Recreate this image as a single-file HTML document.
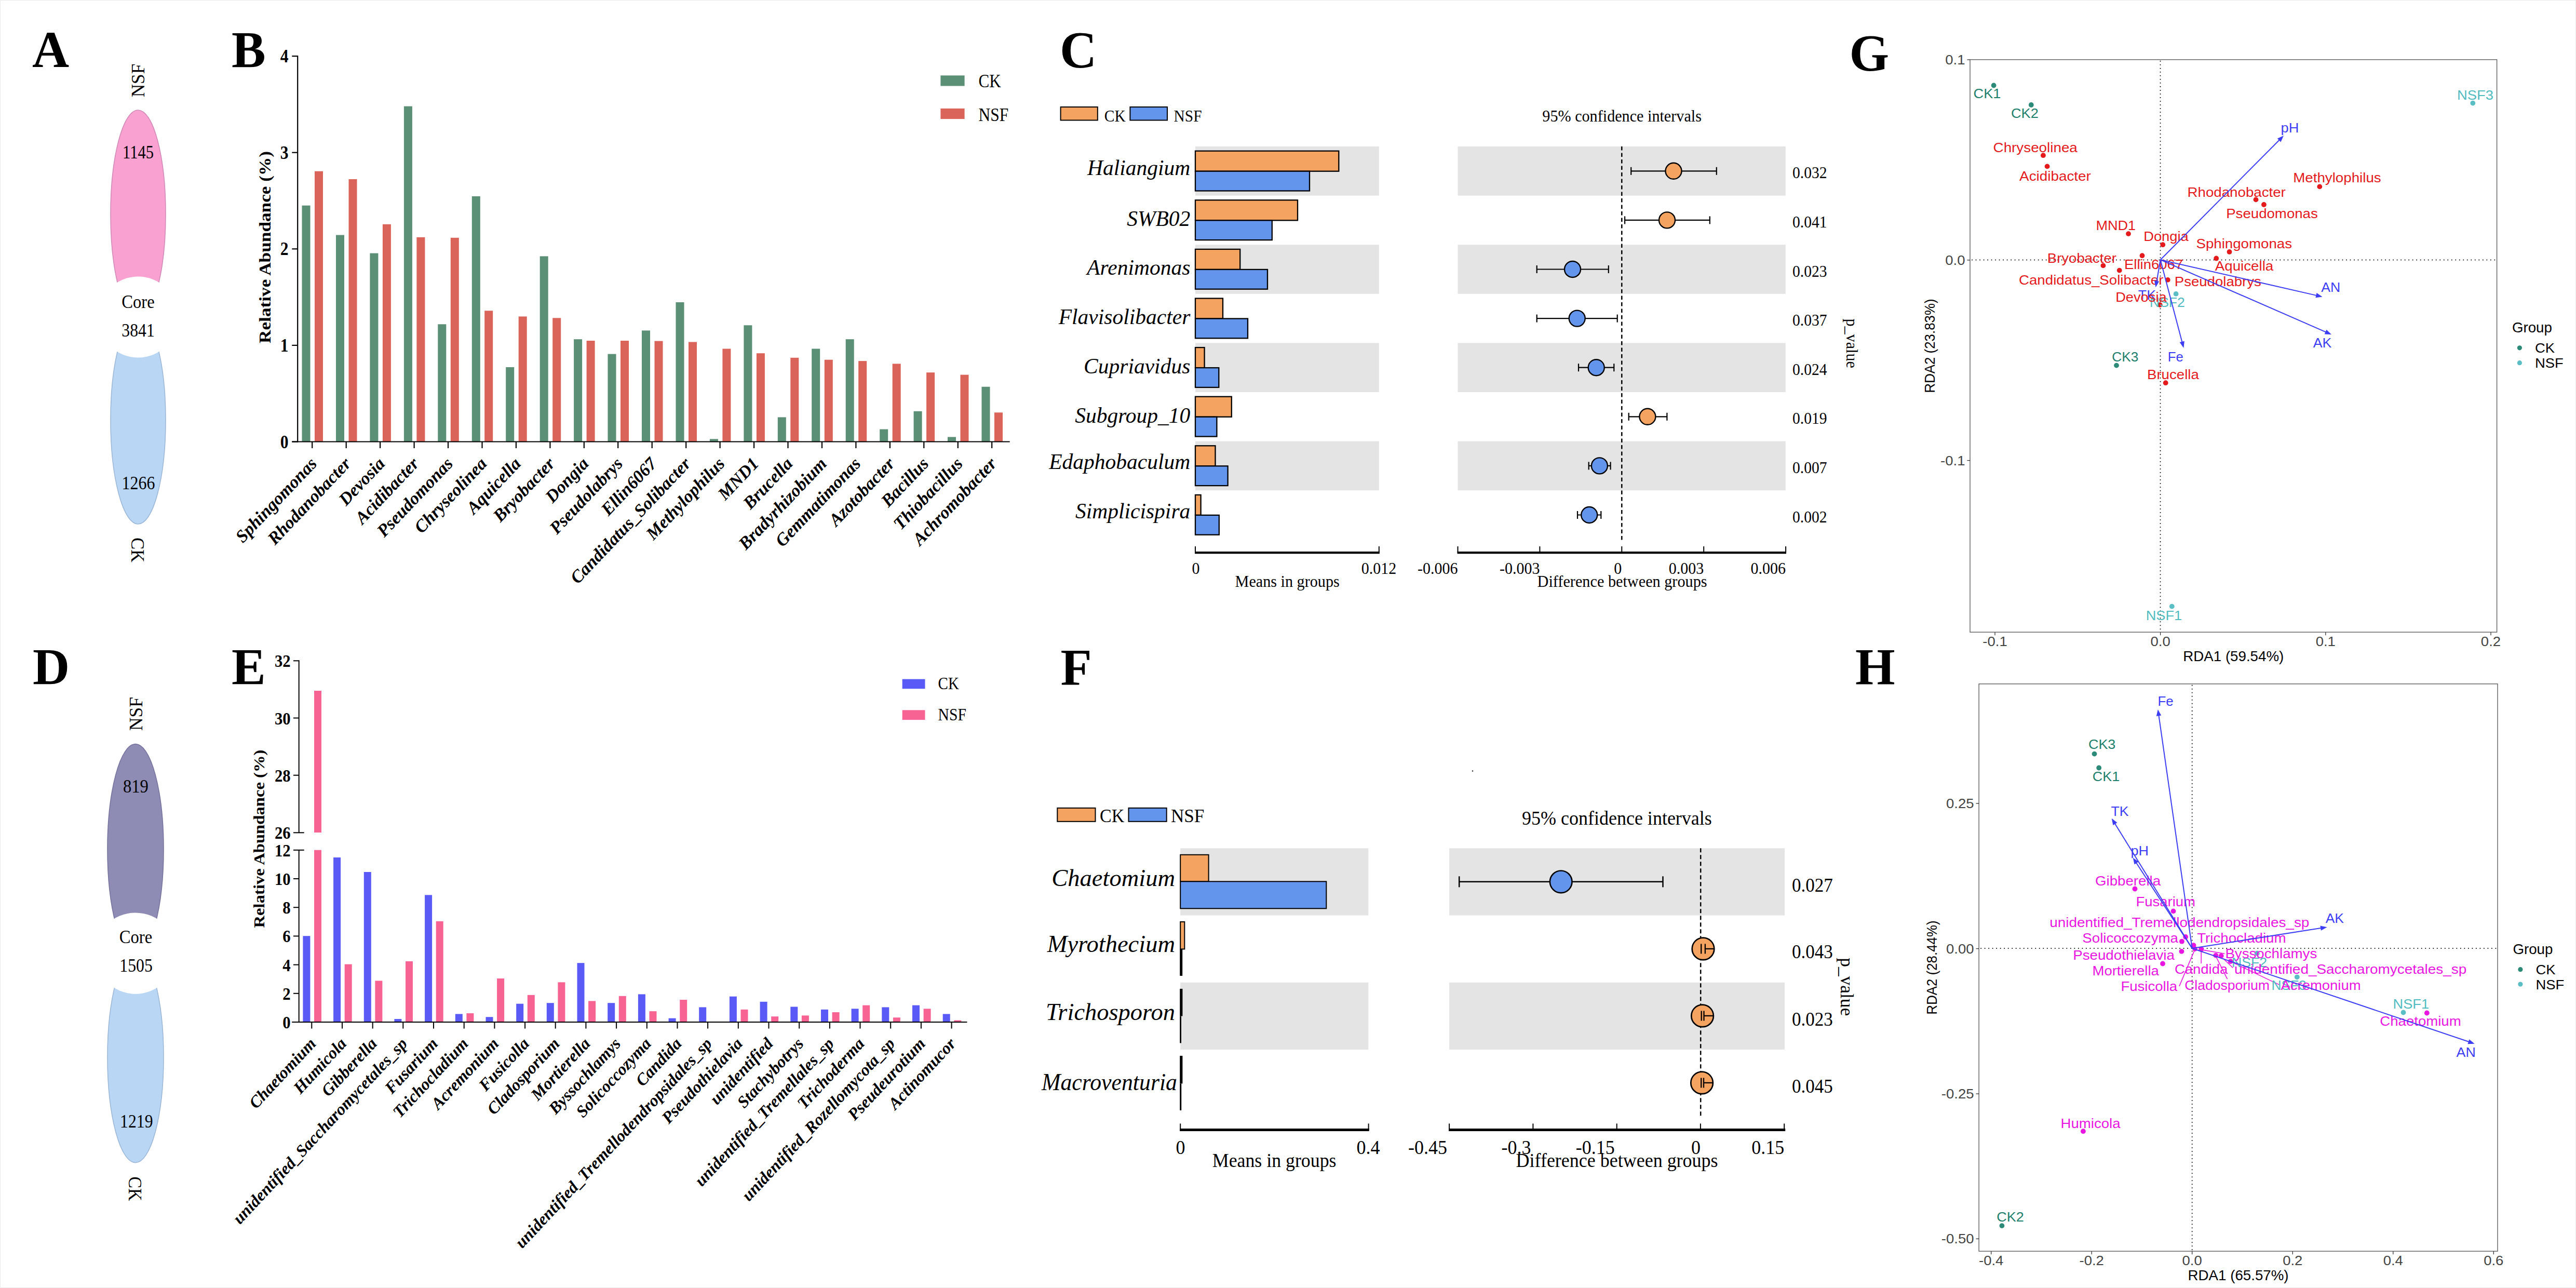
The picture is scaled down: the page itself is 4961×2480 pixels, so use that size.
<!DOCTYPE html>
<html><head><meta charset="utf-8"><title>Figure</title>
<style>html,body{margin:0;padding:0;background:#fff}svg{display:block}.s{font-family:"Liberation Serif",serif}.a{font-family:"Liberation Sans",sans-serif}</style></head><body>
<svg width="4961" height="2480" viewBox="0 0 4961 2480">
<rect x="0.0" y="0.0" width="4961.0" height="2480.0" fill="#fff"/>
<rect x="0.5" y="0.5" width="4960" height="2479" fill="none" stroke="#EAEAEA" stroke-width="1"/>
<text class="s" font-size="98.5" font-weight="bold" x="62.0" y="129.0">A</text>
<text class="s" font-size="98.5" font-weight="bold" x="446.0" y="129.0">B</text>
<text class="s" font-size="98.5" font-weight="bold" x="2041.0" y="129.0">C</text>
<text class="s" font-size="98.5" font-weight="bold" x="3561.5" y="135.0">G</text>
<text class="s" font-size="98.5" font-weight="bold" x="63.0" y="1317.0">D</text>
<text class="s" font-size="98.5" font-weight="bold" x="446.0" y="1317.0">E</text>
<text class="s" font-size="98.5" font-weight="bold" x="2042.5" y="1317.5">F</text>
<text class="s" font-size="98.5" font-weight="bold" x="3573.0" y="1317.0">H</text>
<ellipse cx="266" cy="412.0" rx="53" ry="200" fill="#F9A1D0" stroke="#D48AB8" stroke-width="1.6"/>
<ellipse cx="266" cy="809.0" rx="53" ry="200" fill="#B9D7F5" stroke="#9DB8D8" stroke-width="1.6"/>
<circle cx="266.0" cy="610.5" r="78" fill="#fff"/>
<text class="s" font-size="36" text-anchor="middle" textLength="60.0" lengthAdjust="spacingAndGlyphs" x="266.0" y="304.5">1145</text>
<text class="s" font-size="36" text-anchor="middle" textLength="63.5" lengthAdjust="spacingAndGlyphs" x="266.0" y="593.0">Core</text>
<text class="s" font-size="36" text-anchor="middle" textLength="63.5" lengthAdjust="spacingAndGlyphs" x="266.0" y="648.0">3841</text>
<text class="s" font-size="36" text-anchor="middle" textLength="64.0" lengthAdjust="spacingAndGlyphs" x="266.5" y="941.5">1266</text>
<text class="s" font-size="36" textLength="64.5" lengthAdjust="spacingAndGlyphs" transform="translate(277.7,187.3) rotate(-90)">NSF</text>
<text class="s" font-size="36" textLength="48.0" lengthAdjust="spacingAndGlyphs" transform="translate(253.0,1035.0) rotate(90)">CK</text>
<ellipse cx="261" cy="1635.3" rx="54" ry="202.7" fill="#8E8CB5" stroke="#77759F" stroke-width="1.6"/>
<ellipse cx="261" cy="2035.9" rx="54" ry="202.7" fill="#B9D7F5" stroke="#9DB8D8" stroke-width="1.6"/>
<circle cx="261.0" cy="1835.6" r="78.2" fill="#fff"/>
<text class="s" font-size="36" text-anchor="middle" textLength="49.0" lengthAdjust="spacingAndGlyphs" x="261.4" y="1526.0">819</text>
<text class="s" font-size="36" text-anchor="middle" textLength="63.5" lengthAdjust="spacingAndGlyphs" x="261.4" y="1816.2">Core</text>
<text class="s" font-size="36" text-anchor="middle" textLength="63.5" lengthAdjust="spacingAndGlyphs" x="262.0" y="1870.6">1505</text>
<text class="s" font-size="36" text-anchor="middle" textLength="63.5" lengthAdjust="spacingAndGlyphs" x="262.8" y="2170.5">1219</text>
<text class="s" font-size="36" textLength="65.0" lengthAdjust="spacingAndGlyphs" transform="translate(274.4,1407.0) rotate(-90)">NSF</text>
<text class="s" font-size="36" textLength="47.2" lengthAdjust="spacingAndGlyphs" transform="translate(248.0,2265.3) rotate(90)">CK</text>
<line x1="562.3" y1="850.5" x2="573.2" y2="850.5" stroke="#000" stroke-width="2.2"/>
<text class="s" font-size="35.5" font-weight="bold" text-anchor="end" textLength="15.8" lengthAdjust="spacingAndGlyphs" x="555.6" y="862.5">0</text>
<line x1="562.3" y1="664.9" x2="573.2" y2="664.9" stroke="#000" stroke-width="2.2"/>
<text class="s" font-size="35.5" font-weight="bold" text-anchor="end" textLength="15.8" lengthAdjust="spacingAndGlyphs" x="555.6" y="676.9">1</text>
<line x1="562.3" y1="479.3" x2="573.2" y2="479.3" stroke="#000" stroke-width="2.2"/>
<text class="s" font-size="35.5" font-weight="bold" text-anchor="end" textLength="15.8" lengthAdjust="spacingAndGlyphs" x="555.6" y="491.3">2</text>
<line x1="562.3" y1="293.7" x2="573.2" y2="293.7" stroke="#000" stroke-width="2.2"/>
<text class="s" font-size="35.5" font-weight="bold" text-anchor="end" textLength="15.8" lengthAdjust="spacingAndGlyphs" x="555.6" y="305.7">3</text>
<line x1="562.3" y1="108.1" x2="573.2" y2="108.1" stroke="#000" stroke-width="2.2"/>
<text class="s" font-size="35.5" font-weight="bold" text-anchor="end" textLength="15.8" lengthAdjust="spacingAndGlyphs" x="555.6" y="120.1">4</text>
<rect x="581.5" y="395.7" width="16.0" height="454.8" fill="#5B8F76"/>
<rect x="606.0" y="329.7" width="16.0" height="520.8" fill="#DB645A"/>
<line x1="601.2" y1="850.5" x2="601.2" y2="863.0" stroke="#000" stroke-width="2.2"/>
<text class="s" font-size="34" font-weight="bold" font-style="italic" text-anchor="end" transform="translate(612.2,894.5) rotate(-46.5)">Sphingomonas</text>
<rect x="647.0" y="452.5" width="16.0" height="398.0" fill="#5B8F76"/>
<rect x="671.5" y="345.0" width="16.0" height="505.5" fill="#DB645A"/>
<line x1="666.7" y1="850.5" x2="666.7" y2="863.0" stroke="#000" stroke-width="2.2"/>
<text class="s" font-size="34" font-weight="bold" font-style="italic" text-anchor="end" transform="translate(677.7,894.5) rotate(-46.5)">Rhodanobacter</text>
<rect x="712.4" y="487.6" width="16.0" height="362.9" fill="#5B8F76"/>
<rect x="736.9" y="431.8" width="16.0" height="418.7" fill="#DB645A"/>
<line x1="732.1" y1="850.5" x2="732.1" y2="863.0" stroke="#000" stroke-width="2.2"/>
<text class="s" font-size="34" font-weight="bold" font-style="italic" text-anchor="end" transform="translate(743.1,894.5) rotate(-46.5)">Devosia</text>
<rect x="777.9" y="204.6" width="16.0" height="645.9" fill="#5B8F76"/>
<rect x="802.4" y="456.8" width="16.0" height="393.7" fill="#DB645A"/>
<line x1="797.6" y1="850.5" x2="797.6" y2="863.0" stroke="#000" stroke-width="2.2"/>
<text class="s" font-size="34" font-weight="bold" font-style="italic" text-anchor="end" transform="translate(808.6,894.5) rotate(-46.5)">Acidibacter</text>
<rect x="843.3" y="624.3" width="16.0" height="226.2" fill="#5B8F76"/>
<rect x="867.8" y="457.8" width="16.0" height="392.7" fill="#DB645A"/>
<line x1="863.0" y1="850.5" x2="863.0" y2="863.0" stroke="#000" stroke-width="2.2"/>
<text class="s" font-size="34" font-weight="bold" font-style="italic" text-anchor="end" transform="translate(874.0,894.5) rotate(-46.5)">Pseudomonas</text>
<rect x="908.8" y="377.9" width="16.0" height="472.6" fill="#5B8F76"/>
<rect x="933.2" y="598.3" width="16.0" height="252.2" fill="#DB645A"/>
<line x1="928.5" y1="850.5" x2="928.5" y2="863.0" stroke="#000" stroke-width="2.2"/>
<text class="s" font-size="34" font-weight="bold" font-style="italic" text-anchor="end" transform="translate(939.5,894.5) rotate(-46.5)">Chryseolinea</text>
<rect x="974.2" y="707.0" width="16.0" height="143.5" fill="#5B8F76"/>
<rect x="998.7" y="609.4" width="16.0" height="241.1" fill="#DB645A"/>
<line x1="993.9" y1="850.5" x2="993.9" y2="863.0" stroke="#000" stroke-width="2.2"/>
<text class="s" font-size="34" font-weight="bold" font-style="italic" text-anchor="end" transform="translate(1004.9,894.5) rotate(-46.5)">Aquicella</text>
<rect x="1039.7" y="493.4" width="16.0" height="357.1" fill="#5B8F76"/>
<rect x="1064.2" y="612.3" width="16.0" height="238.2" fill="#DB645A"/>
<line x1="1059.4" y1="850.5" x2="1059.4" y2="863.0" stroke="#000" stroke-width="2.2"/>
<text class="s" font-size="34" font-weight="bold" font-style="italic" text-anchor="end" transform="translate(1070.4,894.5) rotate(-46.5)">Bryobacter</text>
<rect x="1105.1" y="653.2" width="16.0" height="197.3" fill="#5B8F76"/>
<rect x="1129.6" y="656.0" width="16.0" height="194.5" fill="#DB645A"/>
<line x1="1124.8" y1="850.5" x2="1124.8" y2="863.0" stroke="#000" stroke-width="2.2"/>
<text class="s" font-size="34" font-weight="bold" font-style="italic" text-anchor="end" transform="translate(1135.8,894.5) rotate(-46.5)">Dongia</text>
<rect x="1170.5" y="681.6" width="16.0" height="168.9" fill="#5B8F76"/>
<rect x="1195.0" y="656.0" width="16.0" height="194.5" fill="#DB645A"/>
<line x1="1190.2" y1="850.5" x2="1190.2" y2="863.0" stroke="#000" stroke-width="2.2"/>
<text class="s" font-size="34" font-weight="bold" font-style="italic" text-anchor="end" transform="translate(1201.2,894.5) rotate(-46.5)">Pseudolabrys</text>
<rect x="1236.0" y="636.4" width="16.0" height="214.1" fill="#5B8F76"/>
<rect x="1260.5" y="656.6" width="16.0" height="193.9" fill="#DB645A"/>
<line x1="1255.7" y1="850.5" x2="1255.7" y2="863.0" stroke="#000" stroke-width="2.2"/>
<text class="s" font-size="34" font-weight="bold" font-style="italic" text-anchor="end" transform="translate(1266.7,894.5) rotate(-46.5)">Ellin6067</text>
<rect x="1301.5" y="582.0" width="16.0" height="268.5" fill="#5B8F76"/>
<rect x="1326.0" y="658.5" width="16.0" height="192.0" fill="#DB645A"/>
<line x1="1321.2" y1="850.5" x2="1321.2" y2="863.0" stroke="#000" stroke-width="2.2"/>
<text class="s" font-size="34" font-weight="bold" font-style="italic" text-anchor="end" transform="translate(1332.2,894.5) rotate(-46.5)">Candidatus_Solibacter</text>
<rect x="1366.9" y="845.3" width="16.0" height="5.2" fill="#5B8F76"/>
<rect x="1391.4" y="671.5" width="16.0" height="179.0" fill="#DB645A"/>
<line x1="1386.6" y1="850.5" x2="1386.6" y2="863.0" stroke="#000" stroke-width="2.2"/>
<text class="s" font-size="34" font-weight="bold" font-style="italic" text-anchor="end" transform="translate(1397.6,894.5) rotate(-46.5)">Methylophilus</text>
<rect x="1432.4" y="626.3" width="16.0" height="224.2" fill="#5B8F76"/>
<rect x="1456.9" y="680.2" width="16.0" height="170.3" fill="#DB645A"/>
<line x1="1452.1" y1="850.5" x2="1452.1" y2="863.0" stroke="#000" stroke-width="2.2"/>
<text class="s" font-size="34" font-weight="bold" font-style="italic" text-anchor="end" transform="translate(1463.1,894.5) rotate(-46.5)">MND1</text>
<rect x="1497.8" y="803.4" width="16.0" height="47.1" fill="#5B8F76"/>
<rect x="1522.3" y="688.8" width="16.0" height="161.7" fill="#DB645A"/>
<line x1="1517.5" y1="850.5" x2="1517.5" y2="863.0" stroke="#000" stroke-width="2.2"/>
<text class="s" font-size="34" font-weight="bold" font-style="italic" text-anchor="end" transform="translate(1528.5,894.5) rotate(-46.5)">Brucella</text>
<rect x="1563.2" y="671.5" width="16.0" height="179.0" fill="#5B8F76"/>
<rect x="1587.8" y="692.7" width="16.0" height="157.8" fill="#DB645A"/>
<line x1="1583.0" y1="850.5" x2="1583.0" y2="863.0" stroke="#000" stroke-width="2.2"/>
<text class="s" font-size="34" font-weight="bold" font-style="italic" text-anchor="end" transform="translate(1594.0,894.5) rotate(-46.5)">Bradyrhizobium</text>
<rect x="1628.7" y="653.2" width="16.0" height="197.3" fill="#5B8F76"/>
<rect x="1653.2" y="695.1" width="16.0" height="155.4" fill="#DB645A"/>
<line x1="1648.4" y1="850.5" x2="1648.4" y2="863.0" stroke="#000" stroke-width="2.2"/>
<text class="s" font-size="34" font-weight="bold" font-style="italic" text-anchor="end" transform="translate(1659.4,894.5) rotate(-46.5)">Gemmatimonas</text>
<rect x="1694.2" y="826.5" width="16.0" height="24.0" fill="#5B8F76"/>
<rect x="1718.7" y="700.4" width="16.0" height="150.1" fill="#DB645A"/>
<line x1="1713.9" y1="850.5" x2="1713.9" y2="863.0" stroke="#000" stroke-width="2.2"/>
<text class="s" font-size="34" font-weight="bold" font-style="italic" text-anchor="end" transform="translate(1724.9,894.5) rotate(-46.5)">Azotobacter</text>
<rect x="1759.6" y="791.8" width="16.0" height="58.7" fill="#5B8F76"/>
<rect x="1784.1" y="717.2" width="16.0" height="133.3" fill="#DB645A"/>
<line x1="1779.3" y1="850.5" x2="1779.3" y2="863.0" stroke="#000" stroke-width="2.2"/>
<text class="s" font-size="34" font-weight="bold" font-style="italic" text-anchor="end" transform="translate(1790.3,894.5) rotate(-46.5)">Bacillus</text>
<rect x="1825.0" y="841.4" width="16.0" height="9.1" fill="#5B8F76"/>
<rect x="1849.5" y="721.6" width="16.0" height="128.9" fill="#DB645A"/>
<line x1="1844.8" y1="850.5" x2="1844.8" y2="863.0" stroke="#000" stroke-width="2.2"/>
<text class="s" font-size="34" font-weight="bold" font-style="italic" text-anchor="end" transform="translate(1855.8,894.5) rotate(-46.5)">Thiobacillus</text>
<rect x="1890.5" y="744.7" width="16.0" height="105.8" fill="#5B8F76"/>
<rect x="1915.0" y="794.3" width="16.0" height="56.2" fill="#DB645A"/>
<line x1="1910.2" y1="850.5" x2="1910.2" y2="863.0" stroke="#000" stroke-width="2.2"/>
<text class="s" font-size="34" font-weight="bold" font-style="italic" text-anchor="end" transform="translate(1921.2,894.5) rotate(-46.5)">Achromobacter</text>
<line x1="573.2" y1="107.0" x2="573.2" y2="851.6" stroke="#000" stroke-width="2.2"/>
<line x1="562.3" y1="850.5" x2="1944.7" y2="850.5" stroke="#000" stroke-width="2.2"/>
<text class="s" font-size="32.5" font-weight="bold" text-anchor="middle" textLength="370.0" lengthAdjust="spacingAndGlyphs" transform="translate(520.5,476.0) rotate(-90)">Relative Abundance (%)</text>
<rect x="1811.4" y="145.3" width="46.2" height="20.2" fill="#5B8F76"/>
<text class="s" font-size="36" textLength="43.3" lengthAdjust="spacingAndGlyphs" x="1884.5" y="168.4">CK</text>
<rect x="1811.4" y="208.9" width="46.2" height="20.2" fill="#DB645A"/>
<text class="s" font-size="36" textLength="57.8" lengthAdjust="spacingAndGlyphs" x="1884.5" y="232.9">NSF</text>
<line x1="575.7" y1="1271.3" x2="575.7" y2="1603.3" stroke="#000" stroke-width="2"/>
<line x1="565.0" y1="1272.3" x2="575.7" y2="1272.3" stroke="#000" stroke-width="2"/>
<text class="s" font-size="34.5" font-weight="bold" text-anchor="end" textLength="30.7" lengthAdjust="spacingAndGlyphs" x="559.6" y="1284.3">32</text>
<line x1="565.0" y1="1382.5" x2="575.7" y2="1382.5" stroke="#000" stroke-width="2"/>
<text class="s" font-size="34.5" font-weight="bold" text-anchor="end" textLength="30.7" lengthAdjust="spacingAndGlyphs" x="559.6" y="1394.5">30</text>
<line x1="565.0" y1="1492.7" x2="575.7" y2="1492.7" stroke="#000" stroke-width="2"/>
<text class="s" font-size="34.5" font-weight="bold" text-anchor="end" textLength="30.7" lengthAdjust="spacingAndGlyphs" x="559.6" y="1504.7">28</text>
<line x1="565.0" y1="1603.3" x2="585.7" y2="1603.3" stroke="#000" stroke-width="2"/>
<text class="s" font-size="34.5" font-weight="bold" text-anchor="end" textLength="30.7" lengthAdjust="spacingAndGlyphs" x="559.6" y="1615.3">26</text>
<line x1="575.7" y1="1636.7" x2="575.7" y2="1969.0" stroke="#000" stroke-width="2"/>
<line x1="565.0" y1="1968.0" x2="575.7" y2="1968.0" stroke="#000" stroke-width="2"/>
<text class="s" font-size="34.5" font-weight="bold" text-anchor="end" textLength="15.4" lengthAdjust="spacingAndGlyphs" x="559.6" y="1980.0">0</text>
<line x1="565.0" y1="1912.8" x2="575.7" y2="1912.8" stroke="#000" stroke-width="2"/>
<text class="s" font-size="34.5" font-weight="bold" text-anchor="end" textLength="15.4" lengthAdjust="spacingAndGlyphs" x="559.6" y="1924.8">2</text>
<line x1="565.0" y1="1857.6" x2="575.7" y2="1857.6" stroke="#000" stroke-width="2"/>
<text class="s" font-size="34.5" font-weight="bold" text-anchor="end" textLength="15.4" lengthAdjust="spacingAndGlyphs" x="559.6" y="1869.6">4</text>
<line x1="565.0" y1="1802.4" x2="575.7" y2="1802.4" stroke="#000" stroke-width="2"/>
<text class="s" font-size="34.5" font-weight="bold" text-anchor="end" textLength="15.4" lengthAdjust="spacingAndGlyphs" x="559.6" y="1814.4">6</text>
<line x1="565.0" y1="1747.2" x2="575.7" y2="1747.2" stroke="#000" stroke-width="2"/>
<text class="s" font-size="34.5" font-weight="bold" text-anchor="end" textLength="15.4" lengthAdjust="spacingAndGlyphs" x="559.6" y="1759.2">8</text>
<line x1="565.0" y1="1692.0" x2="575.7" y2="1692.0" stroke="#000" stroke-width="2"/>
<text class="s" font-size="34.5" font-weight="bold" text-anchor="end" textLength="30.7" lengthAdjust="spacingAndGlyphs" x="559.6" y="1704.0">10</text>
<line x1="565.0" y1="1636.8" x2="585.7" y2="1636.8" stroke="#000" stroke-width="2"/>
<text class="s" font-size="34.5" font-weight="bold" text-anchor="end" textLength="30.7" lengthAdjust="spacingAndGlyphs" x="559.6" y="1648.8">12</text>
<rect x="583.4" y="1802.2" width="14.0" height="165.8" fill="#5A5AF6"/>
<rect x="605.0" y="1636.7" width="14.0" height="331.3" fill="#F76494"/>
<line x1="600.3" y1="1968.0" x2="600.3" y2="1980.5" stroke="#000" stroke-width="2"/>
<text class="s" font-size="32.2" font-weight="bold" font-style="italic" text-anchor="end" transform="translate(610.3,2011.0) rotate(-47)">Chaetomium</text>
<rect x="642.1" y="1651.0" width="14.0" height="317.0" fill="#5A5AF6"/>
<rect x="663.7" y="1856.6" width="14.0" height="111.4" fill="#F76494"/>
<line x1="659.0" y1="1968.0" x2="659.0" y2="1980.5" stroke="#000" stroke-width="2"/>
<text class="s" font-size="32.2" font-weight="bold" font-style="italic" text-anchor="end" transform="translate(669.0,2011.0) rotate(-47)">Humicola</text>
<rect x="700.8" y="1679.0" width="14.0" height="289.0" fill="#5A5AF6"/>
<rect x="722.4" y="1888.4" width="14.0" height="79.6" fill="#F76494"/>
<line x1="717.7" y1="1968.0" x2="717.7" y2="1980.5" stroke="#000" stroke-width="2"/>
<text class="s" font-size="32.2" font-weight="bold" font-style="italic" text-anchor="end" transform="translate(727.7,2011.0) rotate(-47)">Gibberella</text>
<rect x="759.4" y="1962.0" width="14.0" height="6.0" fill="#5A5AF6"/>
<rect x="781.0" y="1850.9" width="14.0" height="117.1" fill="#F76494"/>
<line x1="776.3" y1="1968.0" x2="776.3" y2="1980.5" stroke="#000" stroke-width="2"/>
<text class="s" font-size="32.2" font-weight="bold" font-style="italic" text-anchor="end" transform="translate(786.3,2011.0) rotate(-47)">unidentified_Saccharomycetales_sp</text>
<rect x="818.1" y="1723.3" width="14.0" height="244.7" fill="#5A5AF6"/>
<rect x="839.7" y="1773.8" width="14.0" height="194.2" fill="#F76494"/>
<line x1="835.0" y1="1968.0" x2="835.0" y2="1980.5" stroke="#000" stroke-width="2"/>
<text class="s" font-size="32.2" font-weight="bold" font-style="italic" text-anchor="end" transform="translate(845.0,2011.0) rotate(-47)">Fusarium</text>
<rect x="876.8" y="1952.4" width="14.0" height="15.6" fill="#5A5AF6"/>
<rect x="898.4" y="1951.0" width="14.0" height="17.0" fill="#F76494"/>
<line x1="893.7" y1="1968.0" x2="893.7" y2="1980.5" stroke="#000" stroke-width="2"/>
<text class="s" font-size="32.2" font-weight="bold" font-style="italic" text-anchor="end" transform="translate(903.7,2011.0) rotate(-47)">Trichocladium</text>
<rect x="935.5" y="1958.2" width="14.0" height="9.8" fill="#5A5AF6"/>
<rect x="957.1" y="1884.0" width="14.0" height="84.0" fill="#F76494"/>
<line x1="952.4" y1="1968.0" x2="952.4" y2="1980.5" stroke="#000" stroke-width="2"/>
<text class="s" font-size="32.2" font-weight="bold" font-style="italic" text-anchor="end" transform="translate(962.4,2011.0) rotate(-47)">Acremonium</text>
<rect x="994.2" y="1932.7" width="14.0" height="35.3" fill="#5A5AF6"/>
<rect x="1015.8" y="1915.8" width="14.0" height="52.2" fill="#F76494"/>
<line x1="1011.1" y1="1968.0" x2="1011.1" y2="1980.5" stroke="#000" stroke-width="2"/>
<text class="s" font-size="32.2" font-weight="bold" font-style="italic" text-anchor="end" transform="translate(1021.1,2011.0) rotate(-47)">Fusicolla</text>
<rect x="1052.8" y="1931.2" width="14.0" height="36.8" fill="#5A5AF6"/>
<rect x="1074.4" y="1891.3" width="14.0" height="76.7" fill="#F76494"/>
<line x1="1069.7" y1="1968.0" x2="1069.7" y2="1980.5" stroke="#000" stroke-width="2"/>
<text class="s" font-size="32.2" font-weight="bold" font-style="italic" text-anchor="end" transform="translate(1079.7,2011.0) rotate(-47)">Cladosporium</text>
<rect x="1111.5" y="1854.2" width="14.0" height="113.8" fill="#5A5AF6"/>
<rect x="1133.1" y="1927.4" width="14.0" height="40.6" fill="#F76494"/>
<line x1="1128.4" y1="1968.0" x2="1128.4" y2="1980.5" stroke="#000" stroke-width="2"/>
<text class="s" font-size="32.2" font-weight="bold" font-style="italic" text-anchor="end" transform="translate(1138.4,2011.0) rotate(-47)">Mortierella</text>
<rect x="1170.2" y="1931.2" width="14.0" height="36.8" fill="#5A5AF6"/>
<rect x="1191.8" y="1917.8" width="14.0" height="50.2" fill="#F76494"/>
<line x1="1187.1" y1="1968.0" x2="1187.1" y2="1980.5" stroke="#000" stroke-width="2"/>
<text class="s" font-size="32.2" font-weight="bold" font-style="italic" text-anchor="end" transform="translate(1197.1,2011.0) rotate(-47)">Byssochlamys</text>
<rect x="1228.9" y="1914.4" width="14.0" height="53.6" fill="#5A5AF6"/>
<rect x="1250.5" y="1947.1" width="14.0" height="20.9" fill="#F76494"/>
<line x1="1245.8" y1="1968.0" x2="1245.8" y2="1980.5" stroke="#000" stroke-width="2"/>
<text class="s" font-size="32.2" font-weight="bold" font-style="italic" text-anchor="end" transform="translate(1255.8,2011.0) rotate(-47)">Solicoccozyma</text>
<rect x="1287.6" y="1960.6" width="14.0" height="7.4" fill="#5A5AF6"/>
<rect x="1309.2" y="1925.0" width="14.0" height="43.0" fill="#F76494"/>
<line x1="1304.5" y1="1968.0" x2="1304.5" y2="1980.5" stroke="#000" stroke-width="2"/>
<text class="s" font-size="32.2" font-weight="bold" font-style="italic" text-anchor="end" transform="translate(1314.5,2011.0) rotate(-47)">Candida</text>
<rect x="1346.2" y="1939.4" width="14.0" height="28.6" fill="#5A5AF6"/>
<line x1="1363.1" y1="1968.0" x2="1363.1" y2="1980.5" stroke="#000" stroke-width="2"/>
<text class="s" font-size="32.2" font-weight="bold" font-style="italic" text-anchor="end" transform="translate(1373.1,2011.0) rotate(-47)">unidentified_Tremellodendropsidales_sp</text>
<rect x="1404.9" y="1918.7" width="14.0" height="49.3" fill="#5A5AF6"/>
<rect x="1426.5" y="1943.8" width="14.0" height="24.2" fill="#F76494"/>
<line x1="1421.8" y1="1968.0" x2="1421.8" y2="1980.5" stroke="#000" stroke-width="2"/>
<text class="s" font-size="32.2" font-weight="bold" font-style="italic" text-anchor="end" transform="translate(1431.8,2011.0) rotate(-47)">Pseudothielavia</text>
<rect x="1463.6" y="1928.8" width="14.0" height="39.2" fill="#5A5AF6"/>
<rect x="1485.2" y="1957.2" width="14.0" height="10.8" fill="#F76494"/>
<line x1="1480.5" y1="1968.0" x2="1480.5" y2="1980.5" stroke="#000" stroke-width="2"/>
<text class="s" font-size="32.2" font-weight="bold" font-style="italic" text-anchor="end" transform="translate(1490.5,2011.0) rotate(-47)">unidentified</text>
<rect x="1522.3" y="1938.5" width="14.0" height="29.5" fill="#5A5AF6"/>
<rect x="1543.9" y="1955.3" width="14.0" height="12.7" fill="#F76494"/>
<line x1="1539.2" y1="1968.0" x2="1539.2" y2="1980.5" stroke="#000" stroke-width="2"/>
<text class="s" font-size="32.2" font-weight="bold" font-style="italic" text-anchor="end" transform="translate(1549.2,2011.0) rotate(-47)">Stachybotrys</text>
<rect x="1581.0" y="1943.8" width="14.0" height="24.2" fill="#5A5AF6"/>
<rect x="1602.6" y="1949.0" width="14.0" height="19.0" fill="#F76494"/>
<line x1="1597.9" y1="1968.0" x2="1597.9" y2="1980.5" stroke="#000" stroke-width="2"/>
<text class="s" font-size="32.2" font-weight="bold" font-style="italic" text-anchor="end" transform="translate(1607.9,2011.0) rotate(-47)">unidentified_Tremellales_sp</text>
<rect x="1639.6" y="1942.3" width="14.0" height="25.7" fill="#5A5AF6"/>
<rect x="1661.2" y="1935.6" width="14.0" height="32.4" fill="#F76494"/>
<line x1="1656.5" y1="1968.0" x2="1656.5" y2="1980.5" stroke="#000" stroke-width="2"/>
<text class="s" font-size="32.2" font-weight="bold" font-style="italic" text-anchor="end" transform="translate(1666.5,2011.0) rotate(-47)">Trichoderma</text>
<rect x="1698.3" y="1939.4" width="14.0" height="28.6" fill="#5A5AF6"/>
<rect x="1719.9" y="1959.2" width="14.0" height="8.8" fill="#F76494"/>
<line x1="1715.2" y1="1968.0" x2="1715.2" y2="1980.5" stroke="#000" stroke-width="2"/>
<text class="s" font-size="32.2" font-weight="bold" font-style="italic" text-anchor="end" transform="translate(1725.2,2011.0) rotate(-47)">unidentified_Rozellomycota_sp</text>
<rect x="1757.0" y="1935.6" width="14.0" height="32.4" fill="#5A5AF6"/>
<rect x="1778.6" y="1942.3" width="14.0" height="25.7" fill="#F76494"/>
<line x1="1773.9" y1="1968.0" x2="1773.9" y2="1980.5" stroke="#000" stroke-width="2"/>
<text class="s" font-size="32.2" font-weight="bold" font-style="italic" text-anchor="end" transform="translate(1783.9,2011.0) rotate(-47)">Pseudeurotium</text>
<rect x="1815.7" y="1952.4" width="14.0" height="15.6" fill="#5A5AF6"/>
<rect x="1837.3" y="1964.5" width="14.0" height="3.5" fill="#F76494"/>
<line x1="1832.6" y1="1968.0" x2="1832.6" y2="1980.5" stroke="#000" stroke-width="2"/>
<text class="s" font-size="32.2" font-weight="bold" font-style="italic" text-anchor="end" transform="translate(1842.6,2011.0) rotate(-47)">Actinomucor</text>
<rect x="605.0" y="1330.0" width="14.0" height="273.0" fill="#F76494"/>
<line x1="562.2" y1="1968.0" x2="1862.5" y2="1968.0" stroke="#000" stroke-width="2.2"/>
<text class="s" font-size="30" font-weight="bold" text-anchor="middle" textLength="343.0" lengthAdjust="spacingAndGlyphs" transform="translate(509.0,1615.0) rotate(-90)">Relative Abundance (%)</text>
<rect x="1737.7" y="1307.6" width="43.8" height="18.6" fill="#5A5AF6"/>
<text class="s" font-size="34" textLength="40.4" lengthAdjust="spacingAndGlyphs" x="1806.6" y="1327.4">CK</text>
<rect x="1737.7" y="1367.3" width="43.8" height="18.8" fill="#F76494"/>
<text class="s" font-size="34" textLength="54.4" lengthAdjust="spacingAndGlyphs" x="1806.6" y="1386.8">NSF</text>
<rect x="2302.0" y="282.0" width="353.8" height="94.6" fill="#E4E4E4"/>
<rect x="2807.5" y="282.0" width="631.3" height="94.6" fill="#E4E4E4"/>
<rect x="2302.0" y="471.2" width="353.8" height="94.6" fill="#E4E4E4"/>
<rect x="2807.5" y="471.2" width="631.3" height="94.6" fill="#E4E4E4"/>
<rect x="2302.0" y="660.4" width="353.8" height="94.6" fill="#E4E4E4"/>
<rect x="2807.5" y="660.4" width="631.3" height="94.6" fill="#E4E4E4"/>
<rect x="2302.0" y="849.6" width="353.8" height="94.6" fill="#E4E4E4"/>
<rect x="2807.5" y="849.6" width="631.3" height="94.6" fill="#E4E4E4"/>
<line x1="3123.3" y1="282.0" x2="3123.3" y2="1041.0" stroke="#000" stroke-width="2.5" stroke-dasharray="7.5 5"/>
<rect x="2302.0" y="290.7" width="276.3" height="39.0" fill="#F4A460" stroke="#000" stroke-width="2.3"/>
<rect x="2302.0" y="329.7" width="220.0" height="37.8" fill="#6495ED" stroke="#000" stroke-width="2.3"/>
<text class="s" font-size="41.5" font-style="italic" text-anchor="end" x="2292.3" y="337.0">Haliangium</text>
<line x1="3141.2" y1="329.3" x2="3305.8" y2="329.3" stroke="#000" stroke-width="2.2"/>
<line x1="3141.2" y1="321.8" x2="3141.2" y2="336.8" stroke="#000" stroke-width="2.2"/>
<line x1="3305.8" y1="321.8" x2="3305.8" y2="336.8" stroke="#000" stroke-width="2.2"/>
<circle cx="3223.0" cy="329.3" r="15.5" fill="#F4A460" stroke="#000" stroke-width="2.4"/>
<text class="s" font-size="31.3" textLength="66.6" lengthAdjust="spacingAndGlyphs" x="3452.0" y="343.3">0.032</text>
<rect x="2302.0" y="385.3" width="197.0" height="39.0" fill="#F4A460" stroke="#000" stroke-width="2.3"/>
<rect x="2302.0" y="424.3" width="147.8" height="37.8" fill="#6495ED" stroke="#000" stroke-width="2.3"/>
<text class="s" font-size="41.5" font-style="italic" text-anchor="end" x="2292.3" y="435.4">SWB02</text>
<line x1="3129.1" y1="423.9" x2="3292.8" y2="423.9" stroke="#000" stroke-width="2.2"/>
<line x1="3129.1" y1="416.4" x2="3129.1" y2="431.4" stroke="#000" stroke-width="2.2"/>
<line x1="3292.8" y1="416.4" x2="3292.8" y2="431.4" stroke="#000" stroke-width="2.2"/>
<circle cx="3210.5" cy="423.9" r="15.5" fill="#F4A460" stroke="#000" stroke-width="2.4"/>
<text class="s" font-size="31.3" textLength="66.6" lengthAdjust="spacingAndGlyphs" x="3452.0" y="437.9">0.041</text>
<rect x="2302.0" y="479.9" width="86.2" height="39.0" fill="#F4A460" stroke="#000" stroke-width="2.3"/>
<rect x="2302.0" y="518.9" width="139.0" height="37.8" fill="#6495ED" stroke="#000" stroke-width="2.3"/>
<text class="s" font-size="41.5" font-style="italic" text-anchor="end" x="2292.3" y="528.6">Arenimonas</text>
<line x1="2959.7" y1="518.5" x2="3097.8" y2="518.5" stroke="#000" stroke-width="2.2"/>
<line x1="2959.7" y1="511.0" x2="2959.7" y2="526.0" stroke="#000" stroke-width="2.2"/>
<line x1="3097.8" y1="511.0" x2="3097.8" y2="526.0" stroke="#000" stroke-width="2.2"/>
<circle cx="3028.5" cy="518.5" r="15.5" fill="#6495ED" stroke="#000" stroke-width="2.4"/>
<text class="s" font-size="31.3" textLength="66.6" lengthAdjust="spacingAndGlyphs" x="3452.0" y="532.5">0.023</text>
<rect x="2302.0" y="574.5" width="53.0" height="39.0" fill="#F4A460" stroke="#000" stroke-width="2.3"/>
<rect x="2302.0" y="613.5" width="101.0" height="37.8" fill="#6495ED" stroke="#000" stroke-width="2.3"/>
<text class="s" font-size="41.5" font-style="italic" text-anchor="end" x="2292.3" y="623.8">Flavisolibacter</text>
<line x1="2959.7" y1="613.1" x2="3114.7" y2="613.1" stroke="#000" stroke-width="2.2"/>
<line x1="2959.7" y1="605.6" x2="2959.7" y2="620.6" stroke="#000" stroke-width="2.2"/>
<line x1="3114.7" y1="605.6" x2="3114.7" y2="620.6" stroke="#000" stroke-width="2.2"/>
<circle cx="3037.2" cy="613.1" r="15.5" fill="#6495ED" stroke="#000" stroke-width="2.4"/>
<text class="s" font-size="31.3" textLength="66.6" lengthAdjust="spacingAndGlyphs" x="3452.0" y="627.1">0.037</text>
<rect x="2302.0" y="669.1" width="17.6" height="39.0" fill="#F4A460" stroke="#000" stroke-width="2.3"/>
<rect x="2302.0" y="708.1" width="45.3" height="37.8" fill="#6495ED" stroke="#000" stroke-width="2.3"/>
<text class="s" font-size="41.5" font-style="italic" text-anchor="end" x="2292.3" y="718.9">Cupriavidus</text>
<line x1="3040.0" y1="707.7" x2="3108.3" y2="707.7" stroke="#000" stroke-width="2.2"/>
<line x1="3040.0" y1="700.2" x2="3040.0" y2="715.2" stroke="#000" stroke-width="2.2"/>
<line x1="3108.3" y1="700.2" x2="3108.3" y2="715.2" stroke="#000" stroke-width="2.2"/>
<circle cx="3074.2" cy="707.7" r="15.5" fill="#6495ED" stroke="#000" stroke-width="2.4"/>
<text class="s" font-size="31.3" textLength="66.6" lengthAdjust="spacingAndGlyphs" x="3452.0" y="721.7">0.024</text>
<rect x="2302.0" y="763.7" width="69.8" height="39.0" fill="#F4A460" stroke="#000" stroke-width="2.3"/>
<rect x="2302.0" y="802.7" width="41.4" height="37.8" fill="#6495ED" stroke="#000" stroke-width="2.3"/>
<text class="s" font-size="41.5" font-style="italic" text-anchor="end" x="2292.3" y="813.8">Subgroup_10</text>
<line x1="3136.7" y1="802.3" x2="3210.4" y2="802.3" stroke="#000" stroke-width="2.2"/>
<line x1="3136.7" y1="794.8" x2="3136.7" y2="809.8" stroke="#000" stroke-width="2.2"/>
<line x1="3210.4" y1="794.8" x2="3210.4" y2="809.8" stroke="#000" stroke-width="2.2"/>
<circle cx="3172.9" cy="802.3" r="15.5" fill="#F4A460" stroke="#000" stroke-width="2.4"/>
<text class="s" font-size="31.3" textLength="66.6" lengthAdjust="spacingAndGlyphs" x="3452.0" y="816.3">0.019</text>
<rect x="2302.0" y="858.3" width="38.5" height="39.0" fill="#F4A460" stroke="#000" stroke-width="2.3"/>
<rect x="2302.0" y="897.3" width="62.6" height="37.8" fill="#6495ED" stroke="#000" stroke-width="2.3"/>
<text class="s" font-size="41.5" font-style="italic" text-anchor="end" x="2292.3" y="902.8">Edaphobaculum</text>
<line x1="3059.7" y1="896.9" x2="3101.6" y2="896.9" stroke="#000" stroke-width="2.2"/>
<line x1="3059.7" y1="889.4" x2="3059.7" y2="904.4" stroke="#000" stroke-width="2.2"/>
<line x1="3101.6" y1="889.4" x2="3101.6" y2="904.4" stroke="#000" stroke-width="2.2"/>
<circle cx="3080.4" cy="896.9" r="15.5" fill="#6495ED" stroke="#000" stroke-width="2.4"/>
<text class="s" font-size="31.3" textLength="66.6" lengthAdjust="spacingAndGlyphs" x="3452.0" y="910.9">0.007</text>
<rect x="2302.0" y="952.9" width="10.6" height="39.0" fill="#F4A460" stroke="#000" stroke-width="2.3"/>
<rect x="2302.0" y="991.9" width="45.8" height="37.8" fill="#6495ED" stroke="#000" stroke-width="2.3"/>
<text class="s" font-size="41.5" font-style="italic" text-anchor="end" x="2292.3" y="997.7">Simplicispira</text>
<line x1="3038.0" y1="991.5" x2="3083.3" y2="991.5" stroke="#000" stroke-width="2.2"/>
<line x1="3038.0" y1="984.0" x2="3038.0" y2="999.0" stroke="#000" stroke-width="2.2"/>
<line x1="3083.3" y1="984.0" x2="3083.3" y2="999.0" stroke="#000" stroke-width="2.2"/>
<circle cx="3060.7" cy="991.5" r="15.5" fill="#6495ED" stroke="#000" stroke-width="2.4"/>
<text class="s" font-size="31.3" textLength="66.6" lengthAdjust="spacingAndGlyphs" x="3452.0" y="1005.5">0.002</text>
<rect x="2042.6" y="206.0" width="71.2" height="25.5" fill="#F4A460" stroke="#000" stroke-width="2"/>
<text class="s" font-size="31.3" textLength="41.0" lengthAdjust="spacingAndGlyphs" x="2126.8" y="233.5">CK</text>
<rect x="2176.4" y="206.0" width="71.6" height="25.5" fill="#6495ED" stroke="#000" stroke-width="2"/>
<text class="s" font-size="31.3" textLength="54.0" lengthAdjust="spacingAndGlyphs" x="2260.6" y="233.5">NSF</text>
<text class="s" font-size="31.3" textLength="306.6" lengthAdjust="spacingAndGlyphs" x="2970.3" y="233.7">95% confidence intervals</text>
<line x1="2301.0" y1="1064.1" x2="2656.8" y2="1064.1" stroke="#000" stroke-width="4.4"/>
<line x1="2302.0" y1="1052.0" x2="2302.0" y2="1064.0" stroke="#000" stroke-width="2"/>
<line x1="2655.8" y1="1052.0" x2="2655.8" y2="1064.0" stroke="#000" stroke-width="2"/>
<text class="s" font-size="31.35" text-anchor="middle" textLength="15.0" lengthAdjust="spacingAndGlyphs" x="2303.0" y="1104.6">0</text>
<text class="s" font-size="31.35" text-anchor="middle" textLength="67.5" lengthAdjust="spacingAndGlyphs" x="2655.6" y="1104.6">0.012</text>
<text class="s" font-size="31.3" textLength="201.2" lengthAdjust="spacingAndGlyphs" x="2378.6" y="1130.3">Means in groups</text>
<line x1="2806.5" y1="1064.1" x2="3440.0" y2="1064.1" stroke="#000" stroke-width="4.4"/>
<line x1="2807.5" y1="1052.0" x2="2807.5" y2="1064.0" stroke="#000" stroke-width="2"/>
<text class="s" font-size="31.35" text-anchor="end" textLength="77.5" lengthAdjust="spacingAndGlyphs" x="2807.5" y="1104.6">-0.006</text>
<line x1="2965.4" y1="1052.0" x2="2965.4" y2="1064.0" stroke="#000" stroke-width="2"/>
<text class="s" font-size="31.35" text-anchor="end" textLength="77.5" lengthAdjust="spacingAndGlyphs" x="2965.4" y="1104.6">-0.003</text>
<line x1="3123.3" y1="1052.0" x2="3123.3" y2="1064.0" stroke="#000" stroke-width="2"/>
<text class="s" font-size="31.35" text-anchor="end" textLength="15.0" lengthAdjust="spacingAndGlyphs" x="3123.3" y="1104.6">0</text>
<line x1="3281.2" y1="1052.0" x2="3281.2" y2="1064.0" stroke="#000" stroke-width="2"/>
<text class="s" font-size="31.35" text-anchor="end" textLength="67.5" lengthAdjust="spacingAndGlyphs" x="3281.2" y="1104.6">0.003</text>
<line x1="3439.1" y1="1052.0" x2="3439.1" y2="1064.0" stroke="#000" stroke-width="2"/>
<text class="s" font-size="31.35" text-anchor="end" textLength="67.5" lengthAdjust="spacingAndGlyphs" x="3439.1" y="1104.6">0.006</text>
<text class="s" font-size="31.3" textLength="327.0" lengthAdjust="spacingAndGlyphs" x="2960.6" y="1130.3">Difference between groups</text>
<text class="s" font-size="31.5" textLength="95.6" lengthAdjust="spacingAndGlyphs" transform="translate(3556.3,613.4) rotate(90)">p_value</text>
<rect x="2273.2" y="1633.3" width="362.1" height="129.2" fill="#E4E4E4"/>
<rect x="2791.1" y="1633.3" width="645.9" height="129.2" fill="#E4E4E4"/>
<rect x="2273.2" y="1891.7" width="362.1" height="129.2" fill="#E4E4E4"/>
<rect x="2791.1" y="1891.7" width="645.9" height="129.2" fill="#E4E4E4"/>
<line x1="3275.2" y1="1633.3" x2="3275.2" y2="2152.0" stroke="#000" stroke-width="2.5" stroke-dasharray="8 5"/>
<rect x="2273.2" y="1645.8" width="54.4" height="51.5" fill="#F4A460" stroke="#000" stroke-width="2"/>
<rect x="2273.2" y="1697.3" width="281.1" height="52.0" fill="#6495ED" stroke="#000" stroke-width="2"/>
<rect x="2273.2" y="1774.9" width="8.1" height="52.5" fill="#F4A460" stroke="#000" stroke-width="2"/>
<rect x="2272.2" y="1827.4" width="5.0" height="51.5" fill="#000"/>
<rect x="2272.2" y="1903.9" width="5.2" height="52.5" fill="#000"/>
<rect x="2272.2" y="1956.4" width="2.8" height="52.0" fill="#000"/>
<rect x="2272.2" y="2032.9" width="5.2" height="53.5" fill="#000"/>
<rect x="2272.2" y="2086.4" width="3.0" height="51.5" fill="#000"/>
<text class="s" font-size="46.5" font-style="italic" text-anchor="end" x="2263.0" y="1705.5">Chaetomium</text>
<text class="s" font-size="46.5" font-style="italic" text-anchor="end" x="2263.0" y="1833.2">Myrothecium</text>
<text class="s" font-size="46.5" font-style="italic" text-anchor="end" x="2263.0" y="1963.5">Trichosporon</text>
<text class="s" font-size="46.5" font-style="italic" textLength="261.0" lengthAdjust="spacingAndGlyphs" x="2006.0" y="2099.1">Macroventuria</text>
<text class="s" font-size="37" textLength="79.0" lengthAdjust="spacingAndGlyphs" x="3450.9" y="1716.6">0.027</text>
<text class="s" font-size="37" textLength="79.0" lengthAdjust="spacingAndGlyphs" x="3450.9" y="1845.1">0.043</text>
<text class="s" font-size="37" textLength="79.0" lengthAdjust="spacingAndGlyphs" x="3450.9" y="1975.1">0.023</text>
<text class="s" font-size="37" textLength="79.0" lengthAdjust="spacingAndGlyphs" x="3450.9" y="2103.6">0.045</text>
<line x1="2810.2" y1="1697.8" x2="3202.5" y2="1697.8" stroke="#000" stroke-width="2.5"/>
<line x1="2810.2" y1="1687.3" x2="2810.2" y2="1708.3" stroke="#000" stroke-width="2.5"/>
<line x1="3202.5" y1="1687.3" x2="3202.5" y2="1708.3" stroke="#000" stroke-width="2.5"/>
<circle cx="3006.2" cy="1697.8" r="21.3" fill="#6495ED" stroke="#000" stroke-width="2.7"/>
<circle cx="3280.0" cy="1826.9" r="21.3" fill="#F4A460" stroke="#000" stroke-width="2.7"/>
<line x1="3276.2" y1="1817.4" x2="3276.2" y2="1836.4" stroke="#000" stroke-width="2.3"/>
<line x1="3283.9" y1="1817.4" x2="3283.9" y2="1836.4" stroke="#000" stroke-width="2.3"/>
<line x1="3283.9" y1="1826.9" x2="3301.7" y2="1826.9" stroke="#000" stroke-width="2.3"/>
<circle cx="3278.6" cy="1955.9" r="21.3" fill="#F4A460" stroke="#000" stroke-width="2.7"/>
<line x1="3276.7" y1="1946.4" x2="3276.7" y2="1965.4" stroke="#000" stroke-width="2.3"/>
<line x1="3281.5" y1="1946.4" x2="3281.5" y2="1965.4" stroke="#000" stroke-width="2.3"/>
<line x1="3281.5" y1="1955.9" x2="3299.3" y2="1955.9" stroke="#000" stroke-width="2.3"/>
<circle cx="3277.6" cy="2084.9" r="21.3" fill="#F4A460" stroke="#000" stroke-width="2.7"/>
<line x1="3276.2" y1="2075.4" x2="3276.2" y2="2094.4" stroke="#000" stroke-width="2.3"/>
<line x1="3281.0" y1="2075.4" x2="3281.0" y2="2094.4" stroke="#000" stroke-width="2.3"/>
<line x1="3281.0" y1="2084.9" x2="3298.3" y2="2084.9" stroke="#000" stroke-width="2.3"/>
<rect x="2036.3" y="1555.8" width="73.2" height="26.0" fill="#F4A460" stroke="#000" stroke-width="2"/>
<text class="s" font-size="35.5" textLength="47.3" lengthAdjust="spacingAndGlyphs" x="2118.0" y="1582.7">CK</text>
<rect x="2173.5" y="1555.8" width="73.2" height="26.0" fill="#6495ED" stroke="#000" stroke-width="2"/>
<text class="s" font-size="35.5" textLength="64.5" lengthAdjust="spacingAndGlyphs" x="2254.9" y="1582.7">NSF</text>
<text class="s" font-size="37.6" textLength="366.0" lengthAdjust="spacingAndGlyphs" x="2930.9" y="1587.6">95% confidence intervals</text>
<line x1="2272.0" y1="2175.4" x2="2636.8" y2="2175.4" stroke="#000" stroke-width="5"/>
<line x1="2273.2" y1="2163.4" x2="2273.2" y2="2175.4" stroke="#000" stroke-width="2"/>
<line x1="2635.6" y1="2163.4" x2="2635.6" y2="2175.4" stroke="#000" stroke-width="2"/>
<text class="s" font-size="37.62" text-anchor="middle" textLength="18.0" lengthAdjust="spacingAndGlyphs" x="2273.6" y="2221.5">0</text>
<text class="s" font-size="37.62" text-anchor="middle" textLength="45.0" lengthAdjust="spacingAndGlyphs" x="2635.1" y="2221.5">0.4</text>
<text class="s" font-size="37.6" textLength="238.7" lengthAdjust="spacingAndGlyphs" x="2334.8" y="2247.4">Means in groups</text>
<line x1="2790.0" y1="2175.4" x2="3438.2" y2="2175.4" stroke="#000" stroke-width="5"/>
<line x1="2791.1" y1="2163.4" x2="2791.1" y2="2175.4" stroke="#000" stroke-width="2"/>
<text class="s" font-size="37.62" text-anchor="end" textLength="75.0" lengthAdjust="spacingAndGlyphs" x="2787.1" y="2221.5">-0.45</text>
<line x1="2952.4" y1="2163.4" x2="2952.4" y2="2175.4" stroke="#000" stroke-width="2"/>
<text class="s" font-size="37.62" text-anchor="end" textLength="57.0" lengthAdjust="spacingAndGlyphs" x="2948.4" y="2221.5">-0.3</text>
<line x1="3113.7" y1="2163.4" x2="3113.7" y2="2175.4" stroke="#000" stroke-width="2"/>
<text class="s" font-size="37.62" text-anchor="end" textLength="75.0" lengthAdjust="spacingAndGlyphs" x="3109.7" y="2221.5">-0.15</text>
<line x1="3274.9" y1="2163.4" x2="3274.9" y2="2175.4" stroke="#000" stroke-width="2"/>
<text class="s" font-size="37.62" text-anchor="end" textLength="18.0" lengthAdjust="spacingAndGlyphs" x="3274.9" y="2221.5">0</text>
<line x1="3436.2" y1="2163.4" x2="3436.2" y2="2175.4" stroke="#000" stroke-width="2"/>
<text class="s" font-size="37.62" text-anchor="end" textLength="63.0" lengthAdjust="spacingAndGlyphs" x="3436.2" y="2221.5">0.15</text>
<text class="s" font-size="37.6" textLength="389.0" lengthAdjust="spacingAndGlyphs" x="2919.6" y="2247.4">Difference between groups</text>
<text class="s" font-size="36.5" textLength="112.0" lengthAdjust="spacingAndGlyphs" transform="translate(3544.7,1844.2) rotate(90)">p_value</text>
<circle cx="2836.0" cy="1484.5" r="1.2" fill="#222"/>
<line x1="4160.5" y1="117.8" x2="4160.5" y2="1217.2" stroke="#000" stroke-width="2" stroke-dasharray="0.01 7.0" stroke-linecap="round"/>
<line x1="3798.0" y1="500.4" x2="4808.6" y2="500.4" stroke="#000" stroke-width="2" stroke-dasharray="0.01 7.5" stroke-linecap="round"/>
<rect x="3794" y="114.8" width="1014.6" height="1102.4" fill="none" stroke="#5E5E5E" stroke-width="1.4"/>
<line x1="3842.0" y1="1217.2" x2="3842.0" y2="1223.2" stroke="#333" stroke-width="1.3"/>
<text class="a" font-size="26.6" text-anchor="middle" fill="#444" textLength="47.4" lengthAdjust="spacingAndGlyphs" x="3842.0" y="1244.2">-0.1</text>
<line x1="4160.6" y1="1217.2" x2="4160.6" y2="1223.2" stroke="#333" stroke-width="1.3"/>
<text class="a" font-size="26.6" text-anchor="middle" fill="#444" textLength="38.3" lengthAdjust="spacingAndGlyphs" x="4160.6" y="1244.2">0.0</text>
<line x1="4478.8" y1="1217.2" x2="4478.8" y2="1223.2" stroke="#333" stroke-width="1.3"/>
<text class="a" font-size="26.6" text-anchor="middle" fill="#444" textLength="38.3" lengthAdjust="spacingAndGlyphs" x="4478.8" y="1244.2">0.1</text>
<line x1="4797.0" y1="1217.2" x2="4797.0" y2="1223.2" stroke="#333" stroke-width="1.3"/>
<text class="a" font-size="26.6" text-anchor="middle" fill="#444" textLength="38.3" lengthAdjust="spacingAndGlyphs" x="4797.0" y="1244.2">0.2</text>
<line x1="3788.4" y1="115.0" x2="3794.0" y2="115.0" stroke="#333" stroke-width="1.3"/>
<text class="a" font-size="26.6" text-anchor="end" fill="#444" textLength="38.3" lengthAdjust="spacingAndGlyphs" x="3784.5" y="123.9">0.1</text>
<line x1="3788.4" y1="500.8" x2="3794.0" y2="500.8" stroke="#333" stroke-width="1.3"/>
<text class="a" font-size="26.6" text-anchor="end" fill="#444" textLength="38.3" lengthAdjust="spacingAndGlyphs" x="3784.5" y="509.7">0.0</text>
<line x1="3788.4" y1="886.6" x2="3794.0" y2="886.6" stroke="#333" stroke-width="1.3"/>
<text class="a" font-size="26.6" text-anchor="end" fill="#444" textLength="47.4" lengthAdjust="spacingAndGlyphs" x="3784.5" y="895.5">-0.1</text>
<text class="a" font-size="27.6" text-anchor="middle" textLength="194.0" lengthAdjust="spacingAndGlyphs" x="4301.3" y="1272.7">RDA1 (59.54%)</text>
<text class="a" font-size="27.6" text-anchor="middle" textLength="181.0" lengthAdjust="spacingAndGlyphs" transform="translate(3725.8,666.0) rotate(-90)">RDA2 (23.83%)</text>
<circle cx="3839.6" cy="164.5" r="4.9" fill="#2B8A78"/>
<circle cx="3911.8" cy="202.0" r="4.9" fill="#2B8A78"/>
<circle cx="4076.0" cy="703.6" r="4.9" fill="#2B8A78"/>
<circle cx="4762.3" cy="198.6" r="4.9" fill="#5ABEC4"/>
<circle cx="4190.6" cy="565.9" r="4.9" fill="#5ABEC4"/>
<circle cx="4182.8" cy="1167.6" r="4.9" fill="#5ABEC4"/>
<circle cx="3934.9" cy="299.2" r="4.9" fill="#E41A1C"/>
<circle cx="3942.6" cy="320.4" r="4.9" fill="#E41A1C"/>
<circle cx="4467.3" cy="359.4" r="4.9" fill="#E41A1C"/>
<circle cx="4344.5" cy="384.4" r="4.9" fill="#E41A1C"/>
<circle cx="4359.9" cy="394.0" r="4.9" fill="#E41A1C"/>
<circle cx="4099.0" cy="450.1" r="4.9" fill="#E41A1C"/>
<circle cx="4165.2" cy="471.2" r="4.9" fill="#E41A1C"/>
<circle cx="4293.5" cy="485.0" r="4.9" fill="#E41A1C"/>
<circle cx="4268.2" cy="497.5" r="4.9" fill="#E41A1C"/>
<circle cx="4125.5" cy="492.2" r="4.9" fill="#E41A1C"/>
<circle cx="4050.4" cy="511.4" r="4.9" fill="#E41A1C"/>
<circle cx="4081.7" cy="520.6" r="4.9" fill="#E41A1C"/>
<circle cx="4174.8" cy="538.9" r="4.9" fill="#E41A1C"/>
<circle cx="4159.7" cy="587.0" r="4.9" fill="#E41A1C"/>
<circle cx="4170.7" cy="737.2" r="4.9" fill="#E41A1C"/>
<text class="a" font-size="26.5" fill="#21806C" textLength="52.9" lengthAdjust="spacingAndGlyphs" x="3800.6" y="189.0">CK1</text>
<text class="a" font-size="26.5" fill="#21806C" textLength="52.8" lengthAdjust="spacingAndGlyphs" x="3873.0" y="226.6">CK2</text>
<text class="a" font-size="26.5" fill="#21806C" textLength="51.0" lengthAdjust="spacingAndGlyphs" x="4067.3" y="695.9">CK3</text>
<text class="a" font-size="26.5" fill="#52BCC0" textLength="70.0" lengthAdjust="spacingAndGlyphs" x="4732.0" y="192.4">NSF3</text>
<text class="a" font-size="26.5" fill="#52BCC0" textLength="67.8" lengthAdjust="spacingAndGlyphs" x="4140.0" y="591.2">NSF2</text>
<text class="a" font-size="26.5" fill="#52BCC0" textLength="69.5" lengthAdjust="spacingAndGlyphs" x="4132.7" y="1194.0">NSF1</text>
<text class="a" font-size="26.5" fill="#3D3DF5" textLength="34.2" lengthAdjust="spacingAndGlyphs" x="4117.8" y="577.4">TK</text>
<text class="a" font-size="26.5" fill="#E41A1C" textLength="162.2" lengthAdjust="spacingAndGlyphs" x="3838.6" y="293.0">Chryseolinea</text>
<text class="a" font-size="26.5" fill="#E41A1C" textLength="137.7" lengthAdjust="spacingAndGlyphs" x="3889.1" y="347.9">Acidibacter</text>
<text class="a" font-size="26.5" fill="#E41A1C" textLength="169.5" lengthAdjust="spacingAndGlyphs" x="4416.2" y="350.7">Methylophilus</text>
<text class="a" font-size="26.5" fill="#E41A1C" textLength="189.2" lengthAdjust="spacingAndGlyphs" x="4212.6" y="378.7">Rhodanobacter</text>
<text class="a" font-size="26.5" fill="#E41A1C" textLength="176.6" lengthAdjust="spacingAndGlyphs" x="4287.2" y="419.7">Pseudomonas</text>
<text class="a" font-size="26.5" fill="#E41A1C" textLength="76.8" lengthAdjust="spacingAndGlyphs" x="4036.4" y="443.3">MND1</text>
<text class="a" font-size="26.5" fill="#E41A1C" textLength="86.6" lengthAdjust="spacingAndGlyphs" x="4128.2" y="464.0">Dongia</text>
<text class="a" font-size="26.5" fill="#E41A1C" textLength="184.5" lengthAdjust="spacingAndGlyphs" x="4229.5" y="478.2">Sphingomonas</text>
<text class="a" font-size="26.5" fill="#E41A1C" textLength="133.2" lengthAdjust="spacingAndGlyphs" x="3942.8" y="505.5">Bryobacter</text>
<text class="a" font-size="26.5" fill="#E41A1C" textLength="113.2" lengthAdjust="spacingAndGlyphs" x="4091.0" y="517.7">Ellin6067</text>
<text class="a" font-size="26.5" fill="#E41A1C" textLength="112.4" lengthAdjust="spacingAndGlyphs" x="4265.8" y="521.3">Aquicella</text>
<text class="a" font-size="26.5" fill="#E41A1C" textLength="278.4" lengthAdjust="spacingAndGlyphs" x="3888.0" y="548.0">Candidatus_Solibacter</text>
<text class="a" font-size="26.5" fill="#E41A1C" textLength="167.0" lengthAdjust="spacingAndGlyphs" x="4187.8" y="551.0">Pseudolabrys</text>
<text class="a" font-size="26.5" fill="#E41A1C" textLength="98.4" lengthAdjust="spacingAndGlyphs" x="4074.2" y="580.6">Devosia</text>
<text class="a" font-size="26.5" fill="#E41A1C" textLength="99.8" lengthAdjust="spacingAndGlyphs" x="4135.0" y="730.0">Brucella</text>
<line x1="4160.6" y1="500.2" x2="4390.5" y2="268.7" stroke="#3D3DF5" stroke-width="2.0"/>
<polygon points="4397.9,261.2 4392.4,273.4 4385.8,266.8" fill="#3D3DF5"/>
<line x1="4160.6" y1="500.2" x2="4462.4" y2="569.1" stroke="#3D3DF5" stroke-width="2.0"/>
<polygon points="4472.6,571.4 4459.4,573.2 4461.5,564.0" fill="#3D3DF5"/>
<line x1="4160.6" y1="500.2" x2="4480.4" y2="639.9" stroke="#3D3DF5" stroke-width="2.0"/>
<polygon points="4490.0,644.1 4476.7,643.4 4480.4,634.8" fill="#3D3DF5"/>
<line x1="4160.6" y1="500.2" x2="4153.3" y2="543.0" stroke="#3D3DF5" stroke-width="2.0"/>
<polygon points="4151.5,553.3 4149.0,540.2 4158.2,541.8" fill="#3D3DF5"/>
<line x1="4160.6" y1="500.2" x2="4202.7" y2="659.8" stroke="#3D3DF5" stroke-width="2.0"/>
<polygon points="4205.4,670.0 4197.7,659.1 4206.8,656.7" fill="#3D3DF5"/>
<text class="a" font-size="26.5" fill="#3D3DF5" textLength="34.7" lengthAdjust="spacingAndGlyphs" x="4392.6" y="254.5">pH</text>
<text class="a" font-size="26.5" fill="#3D3DF5" textLength="37.0" lengthAdjust="spacingAndGlyphs" x="4470.2" y="562.3">AN</text>
<text class="a" font-size="26.5" fill="#3D3DF5" textLength="35.6" lengthAdjust="spacingAndGlyphs" x="4454.8" y="669.0">AK</text>
<text class="a" font-size="26.5" fill="#3D3DF5" textLength="30.1" lengthAdjust="spacingAndGlyphs" x="4174.8" y="695.9">Fe</text>
<text class="a" font-size="27.6" textLength="77.0" lengthAdjust="spacingAndGlyphs" x="4837.9" y="640.0">Group</text>
<circle cx="4852.4" cy="669.8" r="4.6" fill="#2B8A78"/>
<circle cx="4852.4" cy="698.7" r="4.6" fill="#5ABEC4"/>
<text class="a" font-size="26.4" textLength="38.1" lengthAdjust="spacingAndGlyphs" x="4881.9" y="679.3">CK</text>
<text class="a" font-size="26.4" textLength="54.9" lengthAdjust="spacingAndGlyphs" x="4881.9" y="708.2">NSF</text>
<line x1="4221.7" y1="1319.8" x2="4221.7" y2="2409.2" stroke="#000" stroke-width="2" stroke-dasharray="0.01 7.0" stroke-linecap="round"/>
<line x1="3815.1" y1="1826.0" x2="4810.0" y2="1826.0" stroke="#000" stroke-width="2" stroke-dasharray="0.01 7.5" stroke-linecap="round"/>
<rect x="3811.1" y="1316.8" width="998.9" height="1092.4" fill="none" stroke="#5E5E5E" stroke-width="1.4"/>
<line x1="3834.7" y1="2409.2" x2="3834.7" y2="2415.2" stroke="#333" stroke-width="1.3"/>
<text class="a" font-size="26.6" text-anchor="middle" fill="#444" textLength="47.4" lengthAdjust="spacingAndGlyphs" x="3834.7" y="2436.2">-0.4</text>
<line x1="4028.2" y1="2409.2" x2="4028.2" y2="2415.2" stroke="#333" stroke-width="1.3"/>
<text class="a" font-size="26.6" text-anchor="middle" fill="#444" textLength="47.4" lengthAdjust="spacingAndGlyphs" x="4028.2" y="2436.2">-0.2</text>
<line x1="4221.7" y1="2409.2" x2="4221.7" y2="2415.2" stroke="#333" stroke-width="1.3"/>
<text class="a" font-size="26.6" text-anchor="middle" fill="#444" textLength="38.3" lengthAdjust="spacingAndGlyphs" x="4221.7" y="2436.2">0.0</text>
<line x1="4415.3" y1="2409.2" x2="4415.3" y2="2415.2" stroke="#333" stroke-width="1.3"/>
<text class="a" font-size="26.6" text-anchor="middle" fill="#444" textLength="38.3" lengthAdjust="spacingAndGlyphs" x="4415.3" y="2436.2">0.2</text>
<line x1="4608.8" y1="2409.2" x2="4608.8" y2="2415.2" stroke="#333" stroke-width="1.3"/>
<text class="a" font-size="26.6" text-anchor="middle" fill="#444" textLength="38.3" lengthAdjust="spacingAndGlyphs" x="4608.8" y="2436.2">0.4</text>
<line x1="4802.3" y1="2409.2" x2="4802.3" y2="2415.2" stroke="#333" stroke-width="1.3"/>
<text class="a" font-size="26.6" text-anchor="middle" fill="#444" textLength="38.3" lengthAdjust="spacingAndGlyphs" x="4802.3" y="2436.2">0.6</text>
<line x1="3805.5" y1="1547.0" x2="3811.1" y2="1547.0" stroke="#333" stroke-width="1.3"/>
<text class="a" font-size="26.6" text-anchor="end" fill="#444" textLength="53.6" lengthAdjust="spacingAndGlyphs" x="3801.6" y="1555.9">0.25</text>
<line x1="3805.5" y1="1826.6" x2="3811.1" y2="1826.6" stroke="#333" stroke-width="1.3"/>
<text class="a" font-size="26.6" text-anchor="end" fill="#444" textLength="53.6" lengthAdjust="spacingAndGlyphs" x="3801.6" y="1835.5">0.00</text>
<line x1="3805.5" y1="2106.1" x2="3811.1" y2="2106.1" stroke="#333" stroke-width="1.3"/>
<text class="a" font-size="26.6" text-anchor="end" fill="#444" textLength="62.8" lengthAdjust="spacingAndGlyphs" x="3801.6" y="2115.0">-0.25</text>
<line x1="3805.5" y1="2385.3" x2="3811.1" y2="2385.3" stroke="#333" stroke-width="1.3"/>
<text class="a" font-size="26.6" text-anchor="end" fill="#444" textLength="62.8" lengthAdjust="spacingAndGlyphs" x="3801.6" y="2394.2">-0.50</text>
<text class="a" font-size="27.6" text-anchor="middle" textLength="194.0" lengthAdjust="spacingAndGlyphs" x="4310.6" y="2464.7">RDA1 (65.57%)</text>
<text class="a" font-size="27.6" text-anchor="middle" textLength="181.0" lengthAdjust="spacingAndGlyphs" transform="translate(3729.5,1863.0) rotate(-90)">RDA2 (28.44%)</text>
<circle cx="4033.5" cy="1451.6" r="4.9" fill="#2B8A78"/>
<circle cx="4042.2" cy="1478.5" r="4.9" fill="#2B8A78"/>
<circle cx="3855.4" cy="2360.1" r="4.9" fill="#2B8A78"/>
<circle cx="4628.5" cy="1949.5" r="4.9" fill="#5ABEC4"/>
<circle cx="4346.8" cy="1835.6" r="4.9" fill="#5ABEC4"/>
<circle cx="4423.8" cy="1881.3" r="4.9" fill="#5ABEC4"/>
<circle cx="4111.5" cy="1711.5" r="4.9" fill="#E916E2"/>
<circle cx="4185.5" cy="1754.4" r="4.9" fill="#E916E2"/>
<circle cx="4209.1" cy="1804.0" r="4.9" fill="#E916E2"/>
<circle cx="4201.9" cy="1812.7" r="4.9" fill="#E916E2"/>
<circle cx="4224.5" cy="1820.1" r="4.9" fill="#E916E2"/>
<circle cx="4201.4" cy="1831.9" r="4.9" fill="#E916E2"/>
<circle cx="4165.0" cy="1855.5" r="4.9" fill="#E916E2"/>
<circle cx="4227.1" cy="1827.1" r="4.9" fill="#E916E2"/>
<circle cx="4239.2" cy="1827.8" r="4.9" fill="#E916E2"/>
<circle cx="4267.3" cy="1839.6" r="4.9" fill="#E916E2"/>
<circle cx="4277.7" cy="1840.6" r="4.9" fill="#E916E2"/>
<circle cx="4295.7" cy="1851.2" r="4.9" fill="#E916E2"/>
<circle cx="4673.8" cy="1950.5" r="4.9" fill="#E916E2"/>
<circle cx="4011.9" cy="2178.2" r="4.9" fill="#E916E2"/>
<line x1="4227.1" y1="1827.9" x2="4197.0" y2="1898.9" stroke="#E916E2" stroke-width="1.6"/>
<line x1="4239.2" y1="1830.3" x2="4239.2" y2="1855.0" stroke="#E916E2" stroke-width="1.6"/>
<line x1="4267.3" y1="1841.1" x2="4289.5" y2="1885.1" stroke="#E916E2" stroke-width="1.6"/>
<line x1="4239.2" y1="1828.6" x2="4284.2" y2="1836.3" stroke="#E916E2" stroke-width="1.6"/>
<line x1="4281.8" y1="1845.9" x2="4300.3" y2="1863.5" stroke="#E916E2" stroke-width="1.6"/>
<line x1="4295.7" y1="1851.2" x2="4390.1" y2="1896.4" stroke="#E916E2" stroke-width="1.6"/>
<text class="a" font-size="26.5" fill="#21806C" textLength="52.5" lengthAdjust="spacingAndGlyphs" x="4021.9" y="1442.4">CK3</text>
<text class="a" font-size="26.5" fill="#21806C" textLength="52.5" lengthAdjust="spacingAndGlyphs" x="4029.8" y="1503.6">CK1</text>
<text class="a" font-size="26.5" fill="#21806C" textLength="52.5" lengthAdjust="spacingAndGlyphs" x="3845.3" y="2352.0">CK2</text>
<text class="a" font-size="26.5" fill="#52BCC0" textLength="69.5" lengthAdjust="spacingAndGlyphs" x="4608.6" y="1941.8">NSF1</text>
<text class="a" font-size="26.5" fill="#52BCC0" textLength="68.1" lengthAdjust="spacingAndGlyphs" x="4297.9" y="1861.5">NSF2</text>
<text class="a" font-size="26.5" fill="#52BCC0" textLength="67.4" lengthAdjust="spacingAndGlyphs" x="4374.4" y="1905.6">NSF3</text>
<text class="a" font-size="26.5" fill="#E916E2" textLength="126.1" lengthAdjust="spacingAndGlyphs" x="4035.0" y="1704.8">Gibberella</text>
<text class="a" font-size="26.5" fill="#E916E2" textLength="114.5" lengthAdjust="spacingAndGlyphs" x="4113.5" y="1745.2">Fusarium</text>
<text class="a" font-size="26.5" fill="#E916E2" textLength="500.2" lengthAdjust="spacingAndGlyphs" x="3947.2" y="1785.4">unidentified_Tremellodendropsidales_sp</text>
<text class="a" font-size="26.5" fill="#E916E2" textLength="184.7" lengthAdjust="spacingAndGlyphs" x="4010.3" y="1815.0">Solicoccozyma</text>
<text class="a" font-size="26.5" fill="#E916E2" textLength="171.4" lengthAdjust="spacingAndGlyphs" x="4231.2" y="1815.0">Trichocladium</text>
<text class="a" font-size="26.5" fill="#E916E2" textLength="195.7" lengthAdjust="spacingAndGlyphs" x="3992.2" y="1847.5">Pseudothielavia</text>
<text class="a" font-size="26.5" fill="#E916E2" textLength="176.9" lengthAdjust="spacingAndGlyphs" x="4285.4" y="1844.5">Byssochlamys</text>
<text class="a" font-size="26.5" fill="#E916E2" textLength="128.3" lengthAdjust="spacingAndGlyphs" x="4029.5" y="1877.7">Mortierella</text>
<text class="a" font-size="26.5" fill="#E916E2" textLength="102.3" lengthAdjust="spacingAndGlyphs" x="4187.9" y="1874.8">Candida</text>
<text class="a" font-size="26.5" fill="#E916E2" textLength="447.3" lengthAdjust="spacingAndGlyphs" x="4303.0" y="1874.8">unidentified_Saccharomycetales_sp</text>
<text class="a" font-size="26.5" fill="#E916E2" textLength="108.8" lengthAdjust="spacingAndGlyphs" x="4084.4" y="1908.4">Fusicolla</text>
<text class="a" font-size="26.5" fill="#E916E2" textLength="163.8" lengthAdjust="spacingAndGlyphs" x="4207.2" y="1905.6">Cladosporium</text>
<text class="a" font-size="26.5" fill="#E916E2" textLength="154.1" lengthAdjust="spacingAndGlyphs" x="4392.5" y="1905.6">Acremonium</text>
<text class="a" font-size="26.5" fill="#E916E2" textLength="156.4" lengthAdjust="spacingAndGlyphs" x="4583.3" y="1974.6">Chaetomium</text>
<text class="a" font-size="26.5" fill="#E916E2" textLength="115.0" lengthAdjust="spacingAndGlyphs" x="3968.6" y="2172.0">Humicola</text>
<line x1="4221.7" y1="1826.0" x2="4157.3" y2="1376.3" stroke="#3D3DF5" stroke-width="2.0"/>
<polygon points="4155.8,1365.9 4162.2,1377.6 4152.9,1378.9" fill="#3D3DF5"/>
<line x1="4221.7" y1="1826.0" x2="4072.3" y2="1584.7" stroke="#3D3DF5" stroke-width="2.0"/>
<polygon points="4066.8,1575.8 4077.4,1584.0 4069.4,1588.9" fill="#3D3DF5"/>
<line x1="4221.7" y1="1826.0" x2="4113.4" y2="1660.2" stroke="#3D3DF5" stroke-width="2.0"/>
<polygon points="4107.7,1651.4 4118.5,1659.3 4110.6,1664.4" fill="#3D3DF5"/>
<line x1="4221.7" y1="1826.0" x2="4471.1" y2="1786.8" stroke="#3D3DF5" stroke-width="2.0"/>
<polygon points="4481.5,1785.2 4469.9,1791.8 4468.4,1782.5" fill="#3D3DF5"/>
<line x1="4221.7" y1="1826.0" x2="4755.8" y2="2006.3" stroke="#3D3DF5" stroke-width="2.0"/>
<polygon points="4765.7,2009.7 4752.4,2010.2 4755.4,2001.2" fill="#3D3DF5"/>
<text class="a" font-size="26.5" fill="#3D3DF5" textLength="30.3" lengthAdjust="spacingAndGlyphs" x="4155.4" y="1358.7">Fe</text>
<text class="a" font-size="26.5" fill="#3D3DF5" textLength="34.0" lengthAdjust="spacingAndGlyphs" x="4065.6" y="1570.5">TK</text>
<text class="a" font-size="26.5" fill="#3D3DF5" textLength="34.5" lengthAdjust="spacingAndGlyphs" x="4103.6" y="1646.5">pH</text>
<text class="a" font-size="26.5" fill="#3D3DF5" textLength="35.3" lengthAdjust="spacingAndGlyphs" x="4478.7" y="1777.3">AK</text>
<text class="a" font-size="26.5" fill="#3D3DF5" textLength="37.2" lengthAdjust="spacingAndGlyphs" x="4730.6" y="2035.2">AN</text>
<text class="a" font-size="27.6" textLength="77.0" lengthAdjust="spacingAndGlyphs" x="4839.4" y="1836.7">Group</text>
<circle cx="4853.9" cy="1866.7" r="4.6" fill="#2B8A78"/>
<circle cx="4853.9" cy="1895.1" r="4.6" fill="#5ABEC4"/>
<text class="a" font-size="26.4" textLength="38.1" lengthAdjust="spacingAndGlyphs" x="4883.4" y="1876.2">CK</text>
<text class="a" font-size="26.4" textLength="54.9" lengthAdjust="spacingAndGlyphs" x="4883.4" y="1904.6">NSF</text>
</svg></body></html>
